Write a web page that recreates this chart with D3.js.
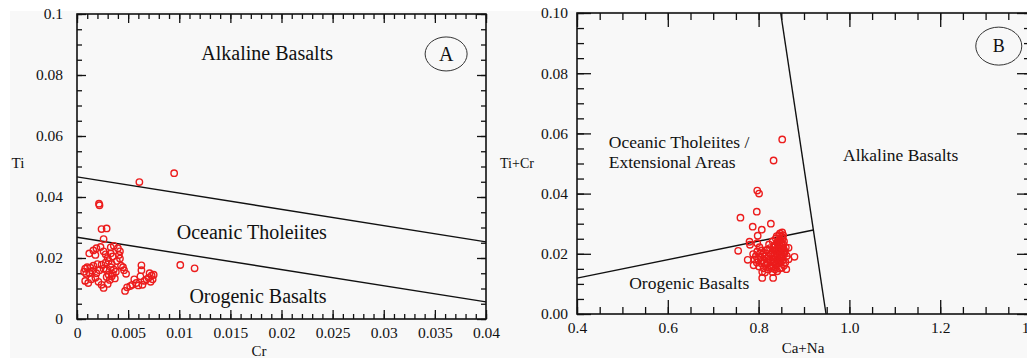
<html>
<head>
<meta charset="utf-8">
<title>Ti - Cr and Ti+Cr - Ca+Na diagrams</title>
<script src="https://d3js.org/d3.v7.min.js"></script>
<style>
body { margin: 0; background: #ffffff; }
svg { display: block; font-family: 'Liberation Serif', 'Times New Roman', serif; }
</style>
</head>
<body>
<svg id="chart" width="1027" height="358"></svg>
<script type="text/javascript">

// ---- panel A : Ti vs Cr ----
var crA = [0.0012,0.0016,0.0019,0.0023,0.0026,0.0018,0.0028,0.0033,0.0036,0.0040,0.0042,0.0041,0.0033,0.0030,0.0035,
           0.0008,0.0010,0.0013,0.0016,0.0020,0.0024,0.0028,0.0031,0.0034,
           0.0007,0.0009,0.0012,0.0015,0.0019,0.0022,0.0026,0.0029,0.0033,0.0036,0.0038,0.0035,0.0031,
           0.0008,0.0011,0.0014,0.0018,0.0021,0.0024,0.0026,0.0029,0.0032,0.0030,0.0034,0.0037,
           0.0039,0.0042,0.0043,0.0045,0.0046,0.0048,
           0.0047,0.0049,0.0052,0.0054,0.0056,0.0058,0.0060,0.0062,0.0063,0.0063,0.0064,0.0066,0.0068,0.0070,0.0071,0.0072,0.0073,0.0075,0.0074,
           0.0061,0.0095,0.00215,0.0022,0.0024,0.0029,0.0026,0.0101,0.0115];
var tiA = [0.0215,0.0225,0.0232,0.0236,0.0222,0.0210,0.0212,0.0235,0.0240,0.0232,0.0222,0.0210,0.0215,0.0200,0.0205,
           0.0165,0.0170,0.0168,0.0175,0.0180,0.0178,0.0185,0.0190,0.0180,
           0.0155,0.0148,0.0152,0.0158,0.0150,0.0160,0.0165,0.0160,0.0170,0.0162,0.0155,0.0148,0.0145,
           0.0125,0.0118,0.0130,0.0135,0.0122,0.0112,0.0102,0.0138,0.0128,0.0115,0.0140,0.0133,
           0.0190,0.0198,0.0175,0.0170,0.0160,0.0148,
           0.0092,0.0104,0.0108,0.0112,0.0130,0.0118,0.0110,0.0140,0.0160,0.0176,0.0112,0.0125,0.0130,0.0135,0.0150,0.0122,0.0143,0.0145,0.0130,
           0.0449,0.0478,0.0378,0.0373,0.0295,0.0297,0.0262,0.0177,0.0166];

var xTicksA = [0, 0.005, 0.01, 0.015, 0.02, 0.025, 0.03, 0.035, 0.04];
var yTicksA = [0, 0.02, 0.04, 0.06, 0.08, 0.1];
var linesA = [
  [[0, 0.0466], [0.04, 0.0253]],
  [[0, 0.0268], [0.04, 0.0056]]
];
var labelsA = [
  {text: "Alkaline Basalts", x: 0.0186, y: 0.0872},
  {text: "Oceanic Tholeiites", x: 0.0171, y: 0.0285},
  {text: "Orogenic Basalts", x: 0.0177, y: 0.0075}
];

// ---- panel B : Ti+Cr vs Ca+Na ----
var caNaB = [0.852,0.833,0.797,0.801,0.796,0.760,0.827,0.787,0.807,0.798,0.780,0.781,0.755,0.776,0.879,0.866,0.808,0.832,0.808,0.797,
             0.789,0.791,0.788,0.796,0.794,0.797,0.801,0.799,0.803,0.802,0.806,0.804,0.807,
             0.811,0.809,0.812,0.816,0.814,0.817,0.821,0.819,0.822,0.820,0.823,
             0.826,0.824,0.827,0.825,0.831,0.829,0.832,0.830,0.833,0.831,
             0.836,0.834,0.837,0.835,0.836,0.838,0.841,0.839,0.842,0.840,0.843,0.841,0.840,
             0.846,0.844,0.847,0.845,0.846,0.848,0.847,0.851,0.849,0.852,0.850,0.851,0.853,0.852,
             0.856,0.854,0.857,0.855,0.856,0.854,0.861,0.859,0.862,0.860,0.866,0.814,0.828,
             0.834,0.838,0.843,0.848,0.853,0.836,0.842,0.847,0.851,0.855,0.839,0.844,0.849,0.845,0.850,
             0.832,0.837,0.841,0.846,0.852,0.826,0.818,0.812,0.858,0.854];
var tiCrB = [0.058,0.051,0.041,0.040,0.034,0.032,0.030,0.029,0.028,0.026,0.024,0.023,0.021,0.018,0.019,0.022,0.012,0.012,0.014,0.0235,
             0.0162,0.0181,0.0199,0.0171,0.0192,0.0208,0.0158,0.0183,0.0201,0.0222,0.0169,0.0188,0.0211,
             0.0152,0.0178,0.0203,0.0163,0.0191,0.0212,0.0148,0.0172,0.0193,0.0214,0.0231,
             0.0161,0.0182,0.0198,0.0219,0.0139,0.0158,0.0181,0.0202,0.0221,0.0242,
             0.0149,0.0171,0.0189,0.0212,0.0229,0.0251,0.0142,0.0163,0.0178,0.0201,0.0222,0.0238,0.0259,
             0.0151,0.0169,0.0191,0.0209,0.0232,0.0248,0.0268,0.0153,0.0172,0.0188,0.0211,0.0228,0.0252,0.0271,
             0.0161,0.0179,0.0202,0.0218,0.0241,0.0262,0.0149,0.0172,0.0193,0.0221,0.0182,0.0138,0.0152,
             0.0196,0.0207,0.0185,0.0198,0.0215,0.0226,0.0233,0.0244,0.0257,0.0206,0.0165,0.0176,0.0183,0.0262,0.0236,
             0.0174,0.0155,0.0196,0.0214,0.0194,0.0172,0.0185,0.0169,0.0208,0.0232];

var xTicksB = [0.4, 0.6, 0.8, 1.0, 1.2, 1.4];
var yTicksB = [0, 0.02, 0.04, 0.06, 0.08, 0.1];
var linesB = [
  [[0.8487, 0.1], [0.9485, 0]],
  [[0.4, 0.0119], [0.9207, 0.0279]]
];
var labelsB = [
  {text: "Oceanic Tholeiites /", x: 0.470, y: 0.0571},
  {text: "Extensional Areas", x: 0.470, y: 0.0505},
  {text: "Alkaline Basalts", x: 0.986, y: 0.0528},
  {text: "Orogenic Basalts", x: 0.515, y: 0.0103}
];

var svg = d3.select("#chart");
var serif = "'Liberation Serif', 'Times New Roman', serif";

// light grey paper, with a white edge top and left like the scan
svg.append("rect").attr("x", 10).attr("y", 11).attr("width", 1017).attr("height", 347).attr("fill", "#f8f8f8");

// d3 puts sans-serif 10px on every axis group, undo that
function tidy(a) {
    a.select(".domain").remove();
    a.attr("font-family", serif).attr("font-size", 15.5);
    a.selectAll(".tick line").attr("stroke", "#111").attr("stroke-width", 1.3);
    a.selectAll(".tick text").attr("fill", "#111");
}

function drawPanel(p) {
    var x = d3.scaleLinear().domain(p.xDomain).range(p.xRange);
    var y = d3.scaleLinear().domain(p.yDomain).range(p.yRange);
    var g = svg.append("g");
    var left = p.xRange[0], right = p.xRange[1], top = p.yRange[1], bottom = p.yRange[0];

    // minor ticks on all four sides
    var sides = [
      {axis: d3.axisBottom, scale: x, t: "translate(0," + bottom + ")", vals: p.xMinor},
      {axis: d3.axisTop, scale: x, t: "translate(0," + top + ")", vals: p.xMinor},
      {axis: d3.axisLeft, scale: y, t: "translate(" + left + ",0)", vals: p.yMinor},
      {axis: d3.axisRight, scale: y, t: "translate(" + right + ",0)", vals: p.yMinor}
    ];
    sides.forEach(function(s) {
        g.append("g").attr("transform", s.t)
          .call(s.axis(s.scale).tickValues(s.vals).tickSize(-p.minorLen).tickFormat(""))
          .call(tidy);
    });

    // major ticks, labelled on bottom and left
    g.append("g").attr("transform", "translate(0," + bottom + ")")
      .call(d3.axisBottom(x).tickValues(p.xTicks).tickSize(-p.majorLen).tickPadding(p.xPad).tickFormat(p.xFormat))
      .call(tidy);
    g.append("g").attr("transform", "translate(0," + top + ")")
      .call(d3.axisTop(x).tickValues(p.xTicks).tickSize(-p.majorLen).tickFormat(""))
      .call(tidy);
    g.append("g").attr("transform", "translate(" + left + ",0)")
      .call(d3.axisLeft(y).tickValues(p.yTicks).tickSize(-p.majorLen).tickPadding(p.yPad).tickFormat(p.yFormat))
      .call(tidy);
    g.append("g").attr("transform", "translate(" + right + ",0)")
      .call(d3.axisRight(y).tickValues(p.yTicks).tickSize(-p.majorLen).tickFormat(""))
      .call(tidy);

    // frame
    g.append("rect").attr("x", left).attr("y", top).attr("width", right - left).attr("height", bottom - top)
      .attr("fill", "none").attr("stroke", "#111").attr("stroke-width", 1.6);

    // field boundaries
    p.lines.forEach(function(l) {
        g.append("line")
          .attr("x1", x(l[0][0])).attr("y1", y(l[0][1]))
          .attr("x2", x(l[1][0])).attr("y2", y(l[1][1]))
          .attr("stroke", "#111").attr("stroke-width", 1.4);
    });

    // field names
    g.selectAll(".field").data(p.labels).enter().append("text")
      .attr("x", function(d) { return x(d.x); })
      .attr("y", function(d) { return y(d.y); })
      .attr("dy", "0.35em")
      .attr("text-anchor", p.labelAnchor)
      .attr("font-size", p.labelSize)
      .attr("fill", "#111")
      .text(function(d) { return d.text; });

    // samples
    g.selectAll(".pt").data(d3.range(p.xs.length)).enter().append("circle")
      .attr("cx", function(i) { return x(p.xs[i]); })
      .attr("cy", function(i) { return y(p.ys[i]); })
      .attr("r", 3.2)
      .attr("fill", "none").attr("stroke", "#ec1c1c").attr("stroke-width", 1.4);

    // panel letter
    g.append("ellipse").attr("cx", x(p.tag.x)).attr("cy", y(p.tag.y)).attr("rx", p.tag.rx).attr("ry", p.tag.ry)
      .attr("fill", "none").attr("stroke", "#333").attr("stroke-width", 1);
    g.append("text").attr("x", x(p.tag.x)).attr("y", y(p.tag.y)).attr("dy", "0.35em")
      .attr("text-anchor", "middle").attr("font-size", p.tag.size).attr("fill", "#111").text(p.tag.text);

    // axis titles
    g.append("text").attr("x", p.xTitle.x).attr("y", p.xTitle.y).attr("dy", "0.35em")
      .attr("text-anchor", "middle").attr("font-size", 15).attr("fill", "#111").text(p.xTitle.text);
    g.append("text").attr("x", p.yTitle.x).attr("y", p.yTitle.y).attr("dy", "0.35em")
      .attr("text-anchor", "middle").attr("font-size", p.yTitle.size).attr("fill", "#111").text(p.yTitle.text);
}

drawPanel({
    xDomain: [0, 0.04], xRange: [77, 486],
    yDomain: [0, 0.1], yRange: [319, 14],
    xTicks: xTicksA, yTicks: yTicksA,
    xMinor: d3.range(0, 0.0405, 0.001), yMinor: d3.range(0, 0.1005, 0.005),
    majorLen: 9, minorLen: 5, xPad: 8, yPad: 14,
    xFormat: function(d) { return String(+d.toFixed(3)); },
    yFormat: function(d) { return String(+d.toFixed(2)); },
    lines: linesA, labels: labelsA, labelAnchor: "middle", labelSize: 20,
    xs: crA, ys: tiA,
    tag: {text: "A", x: 0.0361, y: 0.0869, rx: 21, ry: 17, size: 20},
    xTitle: {text: "Cr", x: 259, y: 351},
    yTitle: {text: "Ti", x: 18, y: 163, size: 15}
});

drawPanel({
    xDomain: [0.4, 1.4], xRange: [577, 1031],
    yDomain: [0, 0.1], yRange: [314, 13],
    xTicks: xTicksB, yTicks: yTicksB,
    xMinor: d3.range(0.4, 1.405, 0.05), yMinor: d3.range(0, 0.1005, 0.005),
    majorLen: 14, minorLen: 7, xPad: 8, yPad: 9,
    xFormat: function(d) { return d.toFixed(1); },
    yFormat: function(d) { return d.toFixed(2); },
    lines: linesB, labels: labelsB, labelAnchor: "start", labelSize: 17.5,
    xs: caNaB, ys: tiCrB,
    tag: {text: "B", x: 1.329, y: 0.089, rx: 23, ry: 19, size: 18},
    xTitle: {text: "Ca+Na", x: 803, y: 348},
    yTitle: {text: "Ti+Cr", x: 517, y: 163, size: 14}
});

</script>
</body>
</html>
